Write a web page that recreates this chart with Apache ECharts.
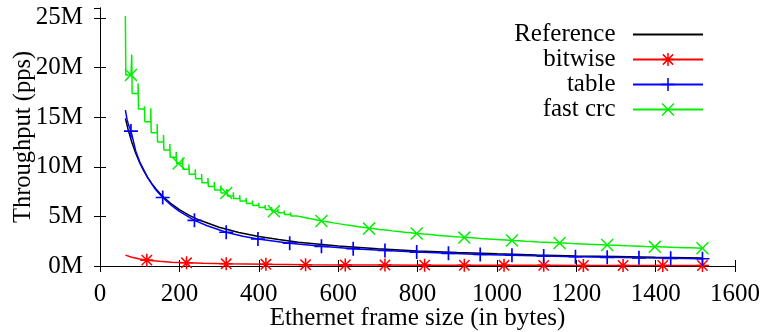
<!DOCTYPE html>
<html>
<head>
<meta charset="utf-8">
<script src="https://cdn.jsdelivr.net/npm/echarts@6/dist/echarts.min.js"></script>
<style>
html,body{margin:0;padding:0;background:#fff;}
#chart{width:768px;height:332px;}
</style>
</head>
<body>
<div id="chart"></div>
<script>
// ---- Data (throughput in millions of packets per second) ----
const seriesNames = ['Reference', 'bitwise', 'table', 'fast crc'];
const xTicks = [0, 200, 400, 600, 800, 1000, 1200, 1400, 1600];
const yTicks = [0, 5, 10, 15, 20, 25];

const refSizes  = [64, 70, 80, 90, 100, 110, 120, 130, 140, 150, 160, 180, 200, 225, 250, 300, 350, 400, 450, 500, 600, 700, 800, 900, 1000, 1100, 1200, 1300, 1400, 1518];
const refValues = [14.88, 13.89, 12.5, 11.36, 10.42, 9.62, 8.93, 8.33, 7.81, 7.35, 6.94, 6.25, 5.68, 5.10, 4.63, 3.91, 3.38, 2.98, 2.66, 2.40, 2.02, 1.74, 1.52, 1.36, 1.23, 1.12, 1.02, 0.95, 0.88, 0.81];

const bitwiseSizes   = [64, 80, 100, 118, 150, 180, 218, 260, 318, 418, 518, 618, 718, 818, 918, 1018, 1118, 1218, 1318, 1418, 1518];
const bitwiseValues  = [1.10, 0.88, 0.70, 0.59, 0.47, 0.39, 0.32, 0.27, 0.22, 0.17, 0.135, 0.113, 0.097, 0.086, 0.076, 0.069, 0.063, 0.057, 0.053, 0.049, 0.046];
const bitwiseMarkers = [118, 218, 318, 418, 518, 618, 718, 818, 918, 1018, 1118, 1218, 1318, 1418, 1518];

const tableSizes   = [64, 68, 72, 78, 90, 100, 120, 140, 158, 180, 200, 238, 270, 318, 360, 398, 478, 558, 638, 718, 798, 878, 958, 1038, 1118, 1198, 1278, 1358, 1438, 1518];
const tableValues  = [15.7, 14.8, 14.2, 13.6, 11.6, 10.5, 8.9, 7.7, 6.9, 6.1, 5.5, 4.6, 4.05, 3.4, 3.0, 2.72, 2.3, 1.98, 1.75, 1.56, 1.40, 1.28, 1.17, 1.08, 1.00, 0.93, 0.87, 0.82, 0.77, 0.73];
const tableMarkers = [78, 158, 238, 318, 398, 478, 558, 638, 718, 798, 878, 958, 1038, 1118, 1198, 1278, 1358, 1438, 1518];

// fast crc: peak at each 16-byte boundary, then lower level until the next boundary
const fastBlocks = [64,80,96,112,128,144,160,176,192,208,224,240,256,272,288,304,320,336,352,368,384,400,416,432,448,464,480,496,512,528,544,560,576,592,608,624,640,656,672,688,704,720,736,752,768,784,800,816,832,848,864,880,896,912,928,944,960,976,992,1008,1024,1040,1056,1072,1088,1104,1120,1136,1152,1168,1184,1200,1216,1232,1248,1264,1280,1296,1312,1328,1344,1360,1376,1392,1408,1424,1440,1456,1472,1488,1504];
const fastPeak = [25.2,21.3,18.4,16.1,15.9,14.3,13.2,12.3,11.5,10.9,10.25,9.75,9.28,8.86,8.46,8.10,7.75,7.44,7.14,6.86,6.59,6.37,6.15,5.95,5.76,5.58,5.41,5.25,5.10,4.96,4.83,4.71,4.59,4.48,4.37,4.27,4.17,4.07,3.98,3.89,3.82,3.73,3.66,3.59,3.52,3.45,3.38,3.33,3.26,3.21,3.15,3.10,3.05,2.99,2.95,2.90,2.85,2.81,2.77,2.73,2.68,2.65,2.61,2.58,2.54,2.50,2.47,2.44,2.41,2.38,2.35,2.32,2.28,2.26,2.23,2.20,2.18,2.16,2.13,2.11,2.08,2.05,2.03,2.01,1.99,1.97,1.95,1.93,1.91,1.89,1.87];
const fastBase = [19.26,17.38,15.83,14.54,13.44,12.50,11.68,10.96,10.33,9.76,9.25,8.80,8.38,8.01,7.66,7.35,7.05,6.79,6.54,6.31,6.09,5.89,5.70,5.52,5.36,5.20,5.05,4.91,4.78,4.66,4.54,4.43,4.32,4.22,4.12,4.03,3.94,3.85,3.77,3.69,3.62,3.54,3.48,3.41,3.35,3.28,3.22,3.17,3.11,3.06,3.01,2.96,2.91,2.86,2.82,2.77,2.73,2.69,2.65,2.61,2.57,2.54,2.50,2.47,2.43,2.40,2.37,2.34,2.31,2.28,2.25,2.22,2.19,2.17,2.14,2.11,2.09,2.07,2.04,2.02,2.00,1.97,1.95,1.93,1.91,1.89,1.87,1.85,1.83,1.81,1.79];
const fastMarkers = [78, 198, 318, 438, 558, 678, 798, 918, 1038, 1158, 1278, 1398, 1518];

// ---- Build series data ----
function withMarkers(sizes, values, markers) {
  return sizes.map((s, i) => markers.indexOf(s) >= 0 ? { value: [s, values[i]] } : { value: [s, values[i]], symbol: 'none' });
}
function fastData() {
  const out = [];
  fastBlocks.forEach((s, i) => {
    out.push({ value: [s, fastPeak[i]], symbol: 'none' });
    out.push({ value: [s + 1, fastBase[i]], symbol: 'none' });
    const next = i + 1 < fastBlocks.length ? fastBlocks[i + 1] : Infinity;
    fastMarkers.forEach(m => {
      if (m > s + 1 && m < next) out.push({ value: [m, fastBase[i]] });
    });
  });
  return out;
}

const PLUS = 'path://M4.4,0H5.6V4.4H10V5.6H5.6V10H4.4V5.6H0V4.4H4.4Z';
const CROSS = 'path://M0,0.8L0.8,0L10,9.2L9.2,10ZM10,0.8L0.8,10L0,9.2L9.2,0Z';
const STAR = 'path://M4.4,0H5.6V4.4H10V5.6H5.6V10H4.4V5.6H0V4.4H4.4ZM0.6,1.4L1.4,0.6L9.4,8.6L8.6,9.4ZM9.4,1.4L1.4,9.4L0.6,8.6L8.6,0.6Z';

const FONT = 'Liberation Serif';
const FS = 25;
const chart = echarts.init(document.getElementById('chart'), null, { renderer: 'canvas' });

const axisCommon = {
  axisLine: { show: true, lineStyle: { color: '#000', width: 1 } },
  axisTick: { show: true, inside: true, length: 6, lineStyle: { color: '#000', width: 1 } },
  splitLine: { show: false }
};

chart.setOption({
  animation: false,
  backgroundColor: '#fff',
  grid: { left: 100, right: 33, top: 8, bottom: 66, containLabel: false, outerBoundsMode: 'none' },
  xAxis: [
    Object.assign({
      type: 'value', position: 'bottom', min: xTicks[0], max: xTicks[xTicks.length - 1], interval: 200,
      name: 'Ethernet frame size (in bytes)', nameLocation: 'middle', nameGap: 40, nameMoveOverlap: false,
      nameTextStyle: { fontFamily: FONT, fontSize: FS, color: '#000' },
      axisLabel: { fontFamily: FONT, fontSize: FS, color: '#000', margin: 16, formatter: v => String(v) }
    }, axisCommon),
    Object.assign({
      type: 'value', position: 'top', min: xTicks[0], max: xTicks[xTicks.length - 1], interval: 200,
      axisLabel: { show: false }
    }, axisCommon)
  ],
  yAxis: [
    Object.assign({
      type: 'value', position: 'left', min: 0, max: 26, interval: 5,
      name: 'Throughput (pps)', nameLocation: 'middle', nameGap: 64, nameRotate: 90, nameMoveOverlap: false,
      nameTextStyle: { fontFamily: FONT, fontSize: 24.5, color: '#000' },
      axisLabel: {
        fontFamily: FONT, fontSize: FS, color: '#000', margin: 17, showMaxLabel: false,
        formatter: v => (yTicks.indexOf(v) >= 0 ? v + 'M' : '')
      }
    }, axisCommon),
    Object.assign({
      type: 'value', position: 'right', min: 0, max: 26, interval: 5,
      axisLabel: { show: false }
    }, axisCommon)
  ],
  legend: {
    show: true, orient: 'vertical', align: 'right', right: 59, top: 17,
    itemWidth: 70, itemHeight: 16, itemGap: 0, selectedMode: false,
    formatter: n => n + '  ',
    textStyle: { fontFamily: FONT, fontSize: FS, color: '#000', lineHeight: 25 },
    data: [
      { name: seriesNames[0], itemStyle: { opacity: 0 } },
      seriesNames[1], seriesNames[2], seriesNames[3]
    ]
  },
  series: [
    {
      name: seriesNames[0], type: 'line', symbol: 'none',
      lineStyle: { color: '#000', width: 1.5 }, itemStyle: { color: '#000' },
      data: refSizes.map((s, i) => [s, refValues[i]])
    },
    {
      name: seriesNames[1], type: 'line', symbol: STAR, symbolSize: 13, showSymbol: true,
      lineStyle: { color: '#ff0000', width: 1.5 }, itemStyle: { color: '#ff0000' },
      data: withMarkers(bitwiseSizes, bitwiseValues, bitwiseMarkers)
    },
    {
      name: seriesNames[2], type: 'line', symbol: PLUS, symbolSize: 14, showSymbol: true,
      lineStyle: { color: '#0000ff', width: 1.5 }, itemStyle: { color: '#0000ff' },
      data: withMarkers(tableSizes, tableValues, tableMarkers)
    },
    {
      name: seriesNames[3], type: 'line', step: 'end', symbol: CROSS, symbolSize: 13, showSymbol: true,
      lineStyle: { color: '#00f000', width: 1.5 }, itemStyle: { color: '#00f000' },
      data: fastData()
    }
  ]
});
</script>
</body>
</html>
